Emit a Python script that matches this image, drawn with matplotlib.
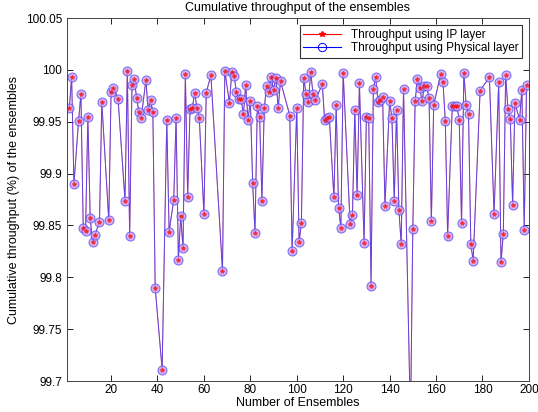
import numpy as np
import matplotlib
matplotlib.use('Agg')
import matplotlib.pyplot as plt
from matplotlib.lines import Line2D

plt.rcParams['font.family'] = ['Liberation Sans', 'DejaVu Sans']

# ensemble index and cumulative throughput (%)
ensembles = [2, 3, 4, 6, 7, 8, 9, 10, 11, 12, 13, 15, 16, 19, 20, 21, 23, 26, 27, 28,
             29, 30, 31, 32, 33, 35, 36, 37, 38, 39, 42, 44, 45, 47, 48, 49, 50, 51, 52, 53,
             54, 55, 56, 57, 58, 60, 61, 63, 68, 69, 71, 72, 73, 74, 75, 76, 77, 78, 79, 80,
             81, 82, 83, 84, 85, 86, 87, 88, 89, 90, 91, 92, 93, 97, 98, 100, 101, 102, 103, 104,
             105, 106, 107, 108, 111, 112, 113, 114, 116, 117, 118, 119, 120, 123, 124, 125, 126, 127, 129, 130,
             131, 132, 133, 134, 135, 136, 137, 138, 140, 141, 142, 143, 144, 145, 146, 149, 150, 151, 152, 153,
             154, 155, 156, 157, 158, 159, 162, 163, 164, 165, 167, 168, 169, 170, 171, 172, 173, 174, 175, 176,
             179, 183, 185, 187, 188, 189, 190, 191, 192, 193, 194, 196, 197, 198, 199]

throughput = [99.963, 99.993, 99.890, 99.951, 99.977, 99.848, 99.845, 99.955, 99.857, 99.834,
              99.841, 99.853, 99.969, 99.855, 99.979, 99.983, 99.972, 99.874, 99.999, 99.840,
              99.985, 99.991, 99.973, 99.959, 99.954, 99.990, 99.961, 99.971, 99.959, 99.790,
              99.711, 99.952, 99.844, 99.875, 99.954, 99.817, 99.859, 99.828, 99.996, 99.877,
              99.962, 99.963, 99.978, 99.963, 99.954, 99.861, 99.978, 99.995, 99.806, 99.999,
              99.968, 99.998, 99.994, 99.979, 99.972, 99.972, 99.957, 99.985, 99.952, 99.970,
              99.891, 99.843, 99.965, 99.955, 99.874, 99.963, 99.984, 99.979, 99.993, 99.981,
              99.992, 99.963, 99.989, 99.956, 99.825, 99.963, 99.834, 99.852, 99.992, 99.977,
              99.969, 99.998, 99.977, 99.971, 99.986, 99.952, 99.954, 99.955, 99.877, 99.966,
              99.867, 99.848, 99.997, 99.851, 99.860, 99.961, 99.879, 99.987, 99.833, 99.955,
              99.954, 99.792, 99.982, 99.993, 99.969, 99.971, 99.974, 99.869, 99.970, 99.954,
              99.874, 99.961, 99.865, 99.832, 99.982, 99.660, 99.847, 99.970, 99.991, 99.983,
              99.970, 99.984, 99.984, 99.973, 99.854, 99.966, 99.996, 99.988, 99.951, 99.840,
              99.965, 99.965, 99.965, 99.952, 99.852, 99.997, 99.966, 99.957, 99.832, 99.816,
              99.980, 99.993, 99.861, 99.988, 99.815, 99.842, 99.995, 99.962, 99.953, 99.870,
              99.968, 99.952, 99.981, 99.846, 99.985]

x = np.array(ensembles)
y = np.array(throughput)

fig = plt.figure(figsize=(5.38, 4.12), dpi=100)
ax = fig.add_axes([0.1245, 0.0752, 0.8585, 0.881])

# IP layer (red stars) and physical layer (blue circles) give the same values
ax.plot(x, y, color='red', linewidth=0.7, alpha=0.6)
ax.plot(x, y, color='#3a3aff', marker='o', markersize=6.5,
        markerfacecolor=(0.8, 0.62, 0.92, 0.45), markeredgecolor=(0.35, 0.3, 0.95, 0.8),
        markeredgewidth=0.7, linewidth=0.7, alpha=0.8)
ax.plot(x, y, linestyle='none', color='red', marker='*', markersize=3, alpha=0.55)

ax.set_xlim(1, 200)
ax.set_ylim(99.7, 100.05)
ax.set_xticks(np.arange(20, 201, 20))
ax.set_yticks([99.7, 99.75, 99.8, 99.85, 99.9, 99.95, 100, 100.05])
ax.set_yticklabels(['99.7', '99.75', '99.8', '99.85', '99.9', '99.95', '100', '100.05'])
ax.tick_params(direction='in', top=True, right=True, labelsize=8.5, length=4, width=0.6)
ax.tick_params(axis='x', pad=2.5)
for s in ax.spines.values():
    s.set_linewidth(0.7)
    s.set_color('#444444')

ax.set_title('Cumulative throughput of the ensembles', fontsize=9, pad=5)
ax.set_xlabel('Number of Ensembles', fontsize=9, labelpad=0.5)
ax.set_ylabel('Cumulative throughput (%) of the ensembles', fontsize=9)

handles = [Line2D([], [], color='red', marker='*', markersize=4, linewidth=0.8),
           Line2D([], [], color='blue', marker='o', markersize=6, markerfacecolor='none',
                  markeredgewidth=0.7, linewidth=0.8)]
leg = ax.legend(handles, ['Throughput using IP layer', 'Throughput using Physical layer'],
                loc='upper right', fontsize=8.5, fancybox=False, framealpha=1,
                edgecolor='#333333', borderaxespad=0.6, handlelength=3.2,
                borderpad=0.3, labelspacing=0.15)
leg.get_frame().set_linewidth(0.8)

fig.savefig('out.png', dpi=100)
